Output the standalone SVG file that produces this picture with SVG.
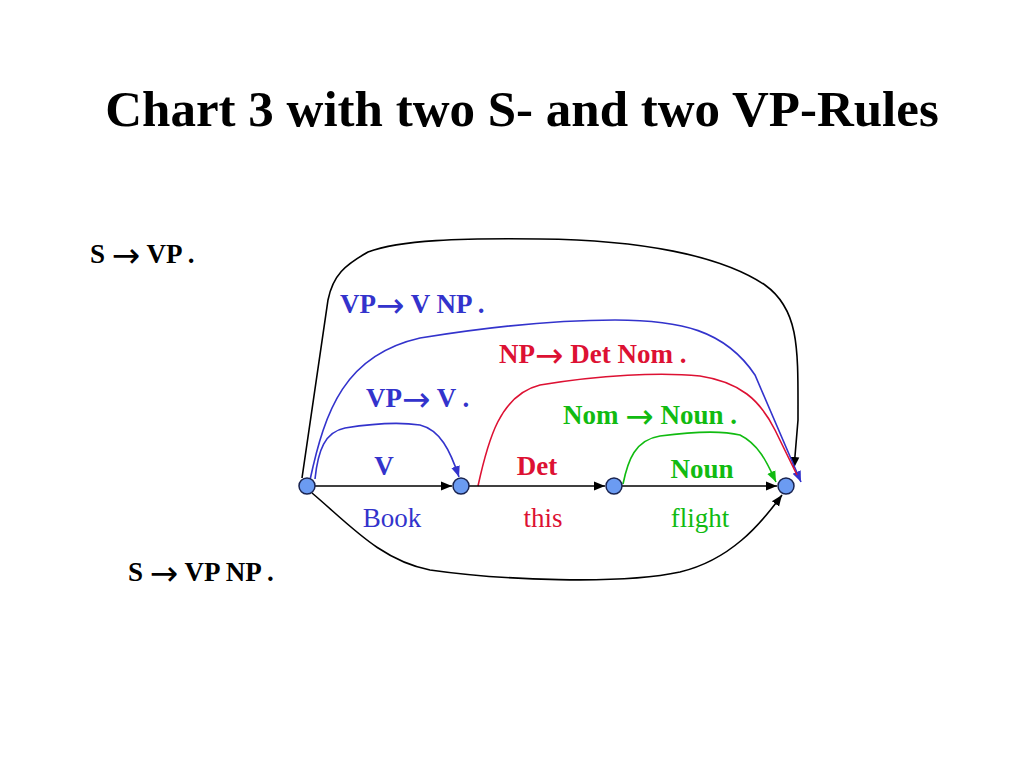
<svg xmlns="http://www.w3.org/2000/svg" width="1024" height="768" viewBox="0 0 1024 768">
<defs>
<style>
text{font-family:"Liberation Serif","Times New Roman",serif;}
.b{font-weight:bold;}
.blue{fill:#3333cc;}
.red{fill:#dd1133;}
.green{fill:#11bb11;}
.blk{fill:#000;}
.ar{font-family:"DejaVu Sans",sans-serif;font-size:34px;font-weight:normal;}
.e{fill:none;stroke-width:1.6;}
.node{fill:#6b9bf2;stroke:#1a2450;stroke-width:1.5;}
</style>
<marker id="aK" viewBox="0 0 10 10" refX="10" refY="5" markerWidth="11" markerHeight="11" markerUnits="userSpaceOnUse" orient="auto"><path d="M0,1 L10,5 L0,9 Z" fill="#000"/></marker>
<marker id="aB" viewBox="0 0 10 10" refX="10" refY="5" markerWidth="11" markerHeight="11" markerUnits="userSpaceOnUse" orient="auto"><path d="M0,1 L10,5 L0,9 Z" fill="#3333cc"/></marker>
<marker id="aG" viewBox="0 0 10 10" refX="10" refY="5" markerWidth="11" markerHeight="11" markerUnits="userSpaceOnUse" orient="auto"><path d="M0,1 L10,5 L0,9 Z" fill="#11bb11"/></marker>
</defs>
<rect width="1024" height="768" fill="#fff"/>
<text x="522" y="126" font-size="51" class="b blk" text-anchor="middle">Chart 3 with two S- and two VP-Rules</text>

<g id="connectors">
<path class="e" stroke="#000" d="M302,478 L328,300 C333,275 345,265 368,252 C400,240 460,238 540,239 C640,240 720,255 765,285 C800,310 798,350 798,420 L794,468" marker-end="url(#aK)"/>
<path class="e" stroke="#000" d="M312,493 C350,525 380,560 430,570 C500,580 620,585 680,572 C730,560 760,525 782,495" marker-end="url(#aK)"/>
<path class="e" stroke="#3333cc" d="M310,480 C325,410 345,355 420,338 C500,325 560,320 615,320 C680,320 725,330 755,375 L801,482" marker-end="url(#aB)"/>
<path class="e" stroke="#dd1133" d="M478,486 C488,440 500,395 540,385 C600,375 660,372 700,376 C740,382 760,400 775,430 L797,475"/>
<path class="e" stroke="#3333cc" d="M315,479 C318,450 325,432 345,428 C370,424 400,422 420,425 C440,430 450,450 459,477" marker-end="url(#aB)"/>
<path class="e" stroke="#11bb11" d="M623,484 C628,460 635,440 660,436 C690,432 720,430 740,435 C760,445 768,465 776,482" marker-end="url(#aG)"/>
<line class="e" stroke="#000" x1="315" y1="486" x2="452" y2="486" marker-end="url(#aK)"/>
<line class="e" stroke="#000" x1="469" y1="486" x2="605" y2="486" marker-end="url(#aK)"/>
<line class="e" stroke="#000" x1="622" y1="486" x2="777" y2="486" marker-end="url(#aK)"/>
</g>

<g id="n0"><circle class="node" cx="307" cy="486" r="8"/></g>
<g id="n1"><circle class="node" cx="461" cy="486" r="8"/></g>
<g id="n2"><circle class="node" cx="614" cy="486" r="8"/></g>
<g id="n3"><circle class="node" cx="786" cy="486" r="8"/></g>

<g id="labels" font-size="27">
<text x="90" y="263" class="b blk">S <tspan class="ar" dy="4">→</tspan><tspan dy="-4"> VP .</tspan></text>
<text x="128" y="581" class="b blk">S <tspan class="ar" dy="4">→</tspan><tspan dy="-4"> VP NP .</tspan></text>
<text x="340" y="313" class="b blue">VP<tspan class="ar" dy="4">→</tspan><tspan dy="-4"> V NP .</tspan></text>
<text x="499" y="363" class="b red">NP<tspan class="ar" dy="4">→</tspan><tspan dy="-4"> Det Nom .</tspan></text>
<text x="366" y="407" class="b blue">VP<tspan class="ar" dy="4">→</tspan><tspan dy="-4"> V .</tspan></text>
<text x="563" y="424" class="b green">Nom <tspan class="ar" dy="4">→</tspan><tspan dy="-4"> Noun .</tspan></text>
<text x="384" y="475" class="b blue" text-anchor="middle">V</text>
<text x="537" y="475" class="b red" text-anchor="middle">Det</text>
<text x="702" y="478" class="b green" text-anchor="middle">Noun</text>
<text x="392" y="527" class="blue" text-anchor="middle">Book</text>
<text x="543" y="527" class="red" text-anchor="middle">this</text>
<text x="700" y="527" class="green" text-anchor="middle">flight</text>
</g>
</svg>
